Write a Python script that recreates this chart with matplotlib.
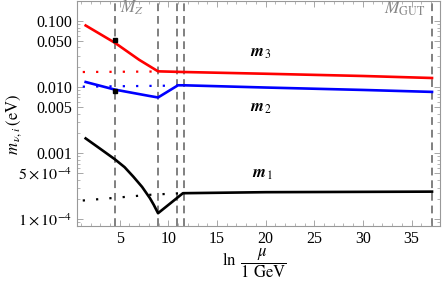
import matplotlib
matplotlib.use("Agg")
import matplotlib.pyplot as plt
from matplotlib.ticker import FixedLocator, FixedFormatter, MultipleLocator, LogLocator, NullFormatter

plt.rcParams["font.family"] = ["Liberation Serif", "DejaVu Serif"]
plt.rcParams["mathtext.fontset"] = "stix"

# scale thresholds (ln mu / 1 GeV)
thresholds = [4.51, 8.94, 10.89, 11.58, 37.1]

# running masses, solid curves
m3_x = [1.5, 4.51, 7.0, 8.94, 11.58, 20.0, 30.0, 37.1]
m3_y = [0.086, 0.047, 0.026, 0.0174, 0.0170, 0.0160, 0.0148, 0.0138]
m2_x = [1.5, 4.51, 8.0, 8.94, 10.99, 11.58, 20.0, 30.0, 37.1]
m2_y = [0.0120, 0.0092, 0.0074, 0.0070, 0.0107, 0.0107, 0.0099, 0.0091, 0.0085]
m1_x = [1.5, 3.0, 4.51, 5.5, 6.4, 7.3, 8.1, 8.5, 8.94, 11.5, 20.0, 37.1]
m1_y = [0.00168, 0.00117, 0.00081, 0.000617, 0.000443, 0.00031, 0.00021, 0.000166,
        0.000124, 0.000249, 0.000258, 0.000263]

# dotted curves
m3d_x = [1.2, 8.94]
m3d_y = [0.0170, 0.0173]
m2d_x = [1.2, 10.99]
m2d_y = [0.0102, 0.0106]
m1d_x = [1.2, 4.51, 8.0, 11.5]
m1d_y = [0.000193, 0.000212, 0.000235, 0.000250]

# data points at M_Z
pts_x = [4.51, 4.51]
pts_y = [0.051, 0.0087]
pts_size = [3.2, 2.2]

ytick_vals = [1e-4, 5e-4, 1e-3, 5e-3, 1e-2, 5e-2, 1e-1]
ytick_labels = [r"$1\times10^{-4}$", r"$5\times10^{-4}$", "0.001", "0.005", "0.010", "0.050", "0.100"]

fig = plt.figure(figsize=(4.42, 2.84), dpi=100)
ax = fig.add_axes([0.174, 0.205, 0.821, 0.793])

for t in thresholds:
    ax.axvline(t, color="#808080", lw=1.4, ls=(0, (4, 2.5)), zorder=1)

dot = (0, (1, 5))
ax.plot(m3d_x, m3d_y, color="red", lw=1.6, ls=dot)
ax.plot(m2d_x, m2d_y, color="blue", lw=1.6, ls=dot)
ax.plot(m1d_x, m1d_y, color="black", lw=1.6, ls=dot)

ax.plot(m3_x, m3_y, color="red", lw=1.9)
ax.plot(m2_x, m2_y, color="blue", lw=1.9)
ax.plot(m1_x, m1_y, color="black", lw=1.9)

for px, py, ps in zip(pts_x, pts_y, pts_size):
    ax.plot(px, py, ls="none", marker="s", ms=ps, color="black", zorder=5)

ax.set_yscale("log")
ax.set_xlim(0.6, 37.9)
ax.set_ylim(8e-5, 0.205)

ax.yaxis.set_major_locator(FixedLocator(ytick_vals))
ax.yaxis.set_major_formatter(FixedFormatter(ytick_labels))
ax.yaxis.set_minor_locator(LogLocator(base=10, subs=range(2, 10)))
ax.yaxis.set_minor_formatter(NullFormatter())
ax.xaxis.set_major_locator(MultipleLocator(5))
ax.xaxis.set_minor_locator(MultipleLocator(1))

ax.tick_params(which="both", direction="in", top=True, right=True, color="#999999",
               labelsize=11.5)
ax.tick_params(which="major", length=4, width=0.6)
ax.tick_params(which="minor", length=2, width=0.5)
for s in ax.spines.values():
    s.set_color("#999999")
    s.set_linewidth(0.8)

txt = dict(fontsize=12)
ax.text(18.4, 0.0326, r"$\boldsymbol{m}_{\,3}$", **txt, va="center")
ax.text(18.4, 0.0048, r"$\boldsymbol{m}_{\,2}$", **txt, va="center")
ax.text(18.6, 0.00048, r"$\boldsymbol{m}_{\,1}$", **txt, va="center")
ax.text(5.0, 0.16, r"$M_Z$", color="#888888", fontsize=12.5, va="center")
ax.text(32.2, 0.155, r"$M_{\mathrm{GUT}}$", color="#888888", fontsize=12.5, va="center")

ax.set_ylabel(r"$m_{\,\nu,i}\,(\mathrm{eV})$", fontsize=12)
ax.yaxis.set_label_coords(-0.145, 0.45)
ax.set_xlabel(r"$\ln\ \dfrac{\mu}{1\ \mathrm{GeV}}$", fontsize=12)
ax.xaxis.set_label_coords(0.49, -0.095)
ax.xaxis.label.set_va("top")

fig.savefig("out.png", dpi=100)
